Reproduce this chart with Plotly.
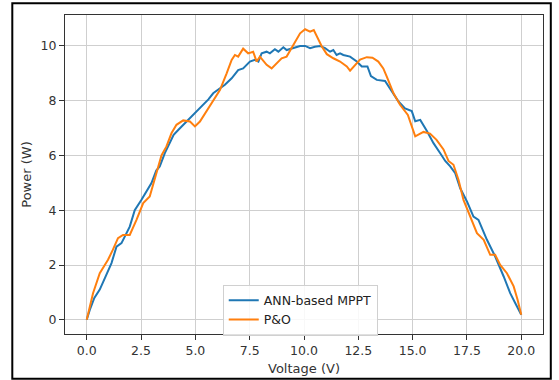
import plotly.graph_objects as go

# ANN-based MPPT series
voltage_ann = [0.0, 0.14, 0.35, 0.6, 0.85, 1.14, 1.37, 1.6, 1.98, 2.21, 2.52, 2.75, 2.98, 3.2, 3.36,
               3.59, 3.82, 4.0, 4.21, 4.52, 4.75, 5.05, 5.36, 5.6, 5.82, 6.05, 6.36, 6.67, 6.97, 7.2,
               7.51, 7.74, 7.9, 8.05, 8.28, 8.43, 8.66, 8.82, 9.05, 9.2, 9.51, 9.82, 10.05, 10.28, 10.5,
               10.74, 10.97, 11.2, 11.35, 11.5, 11.66, 11.81, 12.12, 12.43, 12.66, 12.92, 13.08, 13.35,
               13.73, 14.04, 14.35, 14.65, 14.96, 15.12, 15.35, 15.65, 15.96, 16.27, 16.5, 16.73, 16.96,
               17.19, 17.5, 17.8, 18.03, 18.42, 18.8, 19.19, 19.49, 19.72, 20.0]
power_ann = [0.0, 0.36, 0.8, 1.1, 1.55, 2.07, 2.67, 2.8, 3.4, 4.0, 4.38, 4.7, 4.99, 5.45, 5.6,
             6.08, 6.45, 6.75, 6.93, 7.18, 7.36, 7.6, 7.85, 8.05, 8.27, 8.39, 8.58, 8.82, 9.12, 9.18,
             9.43, 9.49, 9.43, 9.73, 9.79, 9.73, 9.88, 9.79, 9.95, 9.85, 9.92, 10.0, 10.0, 9.92, 9.97,
             10.0, 9.92, 9.79, 9.85, 9.67, 9.73, 9.67, 9.61, 9.43, 9.25, 9.25, 8.9, 8.76,
             8.72, 8.33, 7.97, 7.72, 7.62, 7.25, 7.3, 6.9, 6.45, 6.08, 5.8, 5.6, 5.35,
             4.8, 4.32, 3.77, 3.65, 2.92, 2.31, 1.58, 0.97, 0.61, 0.18]

# P&O series
voltage_po = [0.0, 0.29, 0.6, 0.98, 1.2, 1.44, 1.67, 1.98, 2.29, 2.6, 2.9, 3.13, 3.44, 3.67, 3.9,
              4.13, 4.44, 4.75, 4.98, 5.21, 5.67, 6.13, 6.44, 6.67, 6.82, 6.97, 7.2, 7.43, 7.66, 7.82,
              7.97, 8.28, 8.51, 8.74, 8.97, 9.2, 9.51, 9.82, 10.05, 10.28, 10.45, 10.6, 10.82, 11.05,
              11.35, 11.66, 11.97, 12.12, 12.35, 12.58, 12.89, 13.15, 13.42, 13.65, 13.81, 14.12, 14.42,
              14.78, 15.12, 15.5, 15.8, 16.1, 16.42, 16.65, 16.88, 17.11, 17.34, 17.65, 17.96, 18.27,
              18.57, 18.8, 19.03, 19.34, 19.65, 19.83, 20.0]
power_po = [0.0, 0.97, 1.7, 2.19, 2.55, 2.98, 3.1, 3.1, 3.65, 4.26, 4.5, 5.17, 6.0, 6.33, 6.81,
            7.12, 7.28, 7.24, 7.06, 7.24, 7.79, 8.39, 9.0, 9.49, 9.67, 9.61, 9.9, 9.73, 9.79, 9.43,
            9.61, 9.31, 9.18, 9.37, 9.55, 9.61, 10.04, 10.46, 10.61, 10.52, 10.58, 10.34, 9.98, 9.7,
            9.55, 9.43, 9.25, 9.1, 9.3, 9.5, 9.59, 9.57, 9.43, 9.18, 8.88, 8.27, 7.85,
            7.48, 6.7, 6.86, 6.8, 6.57, 6.22, 5.8, 5.66, 5.11, 4.38, 3.77, 3.16, 2.92,
            2.37, 2.37, 2.0, 1.7, 1.22, 0.73, 0.18]

x_ticks = [0.0, 2.5, 5.0, 7.5, 10.0, 12.5, 15.0, 17.5, 20.0]
y_ticks = [0, 2, 4, 6, 8, 10]

font_family = "DejaVu Sans, Verdana, sans-serif"

fig = go.Figure()
fig.add_trace(go.Scatter(x=voltage_ann, y=power_ann, mode="lines", name="ANN-based MPPT",
                         line=dict(color="#1f77b4", width=2)))
fig.add_trace(go.Scatter(x=voltage_po, y=power_po, mode="lines", name="P&O",
                         line=dict(color="#ff7f0e", width=2)))

axis_common = dict(showline=True, linecolor="#333333", linewidth=1, mirror=True,
                   ticks="outside", ticklen=5, tickcolor="#333333", tickwidth=1,
                   showgrid=True, gridcolor="#cfcfcf", gridwidth=1, zeroline=False,
                   automargin=False,
                   tickfont=dict(family=font_family, size=12.5, color="#333333"))

fig.update_xaxes(range=[-1.0, 21.0], tickvals=x_ticks, ticktext=[f"{v:.1f}" for v in x_ticks],
                 title=dict(text="Voltage (V)", font=dict(family=font_family, size=13, color="#333333"),
                            standoff=6),
                 **axis_common)
fig.update_yaxes(range=[-0.52, 11.13], tickvals=y_ticks,
                 title=dict(text="Power (W)", font=dict(family=font_family, size=13, color="#333333"),
                            standoff=6),
                 **axis_common)

fig.update_layout(
    width=559, height=380,
    margin=dict(l=65, r=16, t=15, b=46, autoexpand=False),
    paper_bgcolor="white", plot_bgcolor="white",
    font=dict(family=font_family, color="#333333"),
    legend=dict(x=0.33, y=0.155, xanchor="left", yanchor="top",
                bgcolor="rgba(255,255,255,0.85)", bordercolor="#d0d0d0", borderwidth=1,
                font=dict(family=font_family, size=12.5, color="#222222"),
                itemwidth=30, tracegroupgap=0),
    showlegend=True,
)

# outer black frame around the whole picture
fig.add_shape(type="rect", xref="paper", yref="paper",
              x0=(12.3 - 65) / 478, x1=(550.8 - 65) / 478,
              y0=(334 - 378.8) / 319, y1=(334 - 3.3) / 319,
              line=dict(color="black", width=2), fillcolor="rgba(0,0,0,0)", layer="above")

fig.write_html("out.html")
